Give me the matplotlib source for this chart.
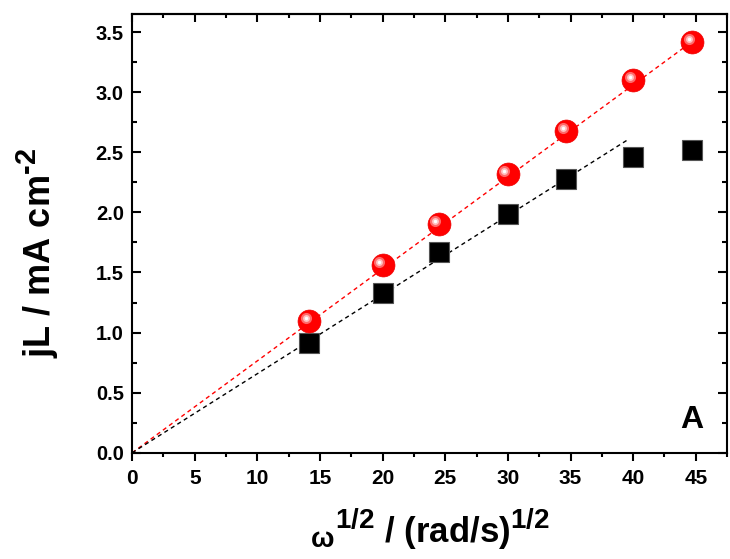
import numpy as np
import matplotlib
matplotlib.use('Agg')
import matplotlib.pyplot as plt
import matplotlib.transforms as mtransforms
import matplotlib._mathtext as mathtext_mod
from matplotlib.ticker import MultipleLocator

plt.rcParams['font.family'] = ['Liberation Sans', 'DejaVu Sans']
plt.rcParams['font.weight'] = 'bold'
plt.rcParams['mathtext.fontset'] = 'custom'
plt.rcParams['mathtext.rm'] = 'Liberation Sans:bold'
plt.rcParams['mathtext.bf'] = 'Liberation Sans:bold'
plt.rcParams['mathtext.it'] = 'Liberation Sans:bold'
# 上标放大一点，接近原图
mathtext_mod.SHRINK_FACTOR = 0.8

# 数据：omega^1/2 与极限电流
omega_sqrt = [14.14, 20.0, 24.49, 30.0, 34.64, 40.0, 44.72]
j_red = [1.10, 1.56, 1.90, 2.32, 2.68, 3.10, 3.42]
j_black = [0.91, 1.33, 1.67, 1.99, 2.28, 2.46, 2.52]

# 拟合直线（过原点）
slope_red = 0.0765
slope_black = 0.0658
fit_end_red = 45.0
fit_end_black = 39.7

fig = plt.figure(figsize=(7.3, 5.59), dpi=100)
ax = fig.add_axes([0.181, 0.19, 0.815, 0.785])

xr = np.array([0, fit_end_red])
xb = np.array([0, fit_end_black])
ax.plot(xr, slope_red * xr, color='red', lw=1.0, dashes=(3, 2.5), zorder=2)
ax.plot(xb, slope_black * xb, color='black', lw=1.0, dashes=(3, 2.5), zorder=2)

# 黑色方块
ax.plot(omega_sqrt, j_black, ls='', marker='s', markersize=15, color='black',
        markeredgecolor='#555555', markeredgewidth=0.8, zorder=3)

# 红色球体（带高光）
ax.plot(omega_sqrt, j_red, ls='', marker='o', markersize=16.5, color='#ff0000',
        markeredgecolor='#ee0000', markeredgewidth=0.5, zorder=4)
hl = mtransforms.offset_copy(ax.transData, fig=fig, x=-3.5, y=3.0, units='dots')
ax.plot(omega_sqrt, j_red, ls='', marker='o', markersize=8, color='#ff6a6a',
        markeredgewidth=0, transform=hl, zorder=5)
ax.plot(omega_sqrt, j_red, ls='', marker='o', markersize=5, color='#ffc0c0',
        markeredgewidth=0, transform=hl, zorder=6)
ax.plot(omega_sqrt, j_red, ls='', marker='o', markersize=2.5, color='white',
        markeredgewidth=0, transform=hl, zorder=7)

ax.set_xlim(0, 47.5)
ax.set_ylim(0, 3.65)
ax.xaxis.set_major_locator(MultipleLocator(5))
ax.xaxis.set_minor_locator(MultipleLocator(2.5))
ax.yaxis.set_major_locator(MultipleLocator(0.5))
ax.yaxis.set_minor_locator(MultipleLocator(0.25))
# 底部刻度朝外，其余朝内
ax.tick_params(axis='y', which='both', direction='in', left=True, right=True,
               width=1.5, labelsize=14.5)
ax.tick_params(axis='y', which='major', length=6.5, pad=6)
ax.tick_params(axis='y', which='minor', length=3.5)
ax.tick_params(axis='x', which='both', direction='out', bottom=True, top=False,
               width=1.5, labelsize=15)
ax.tick_params(axis='x', which='major', length=6, pad=6)
ax.tick_params(axis='x', which='minor', length=3)
# 顶部刻度（朝内）
sec = ax.secondary_xaxis('top')
sec.xaxis.set_major_locator(MultipleLocator(5))
sec.xaxis.set_minor_locator(MultipleLocator(2.5))
sec.tick_params(which='both', direction='in', width=1.5, labeltop=False)
sec.tick_params(which='major', length=6)
sec.tick_params(which='minor', length=3)
sec.spines['top'].set_linewidth(1.5)
for s in ax.spines.values():
    s.set_linewidth(1.5)
for lab in ax.get_xticklabels() + ax.get_yticklabels():
    lab.set_fontweight('bold')

ax.set_ylabel(r'jL / mA cm$^{\text{-2}}$', fontsize=26, fontweight='bold')
ax.yaxis.set_label_coords(-0.12, 0.456)
ax.set_xlabel(r'${}_{\omega}{}^{1/2}$ / (rad/s)$^{1/2}$', fontsize=25,
              fontweight='bold', labelpad=13)

ax.text(44.7, 0.275, 'A', fontsize=23, fontweight='bold', ha='center', va='center')

fig.savefig('out.png', dpi=100)
